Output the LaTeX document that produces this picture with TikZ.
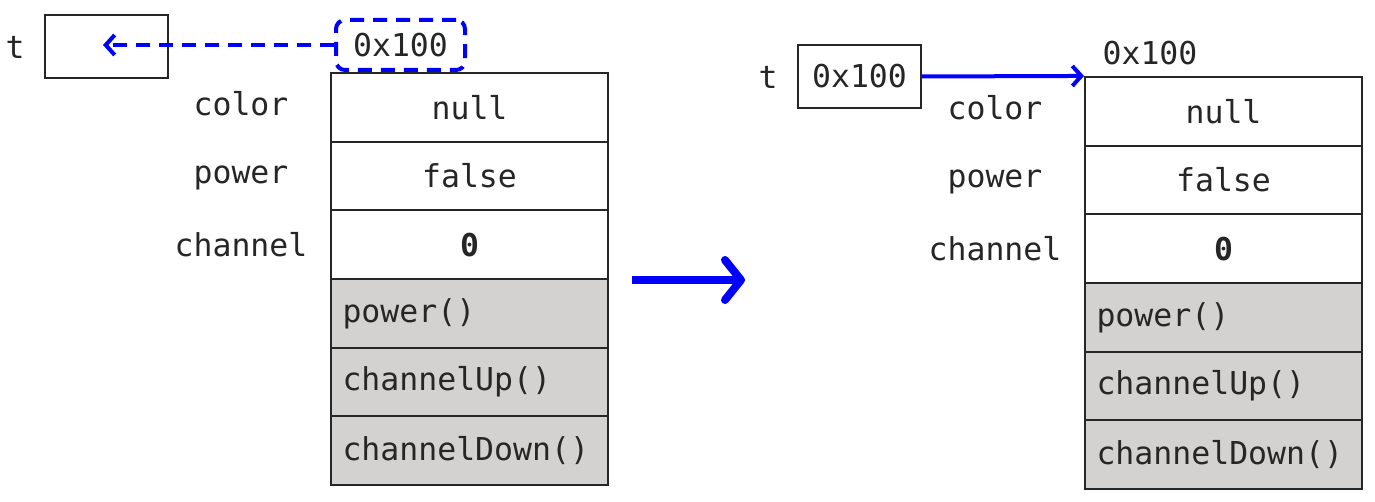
\documentclass[tikz,border=0pt]{standalone}
\usepackage{fontspec}
\setmonofont{DejaVu Sans Mono}
\usetikzlibrary{arrows.meta}
\definecolor{cellgray}{HTML}{D4D2D0}
\definecolor{ptrblue}{HTML}{0000FF}
\tikzset{
  code/.style={font=\ttfamily\fontsize{31.5}{37}\selectfont, text=black!85},
  cell/.style={draw=black!85, line width=2pt, minimum width=277pt, minimum height=68.7pt, inner sep=0pt, code},
  method/.style={cell, fill=cellgray, text width=254pt, align=left},
  varbox/.style={draw=black!85, line width=2pt, minimum width=123pt, minimum height=63pt, inner sep=0pt, code},
  lbl/.style={code, anchor=center},
  refarrow/.style={draw=ptrblue, line width=4pt, -{Straight Barb[length=9pt,width=20pt,line width=4pt]}},
}
\begin{document}
\begin{tikzpicture}[x=1pt,y=-1pt]
\useasboundingbox (0,0) rectangle (1375,502);

% ---- before: reference not yet assigned ----
\node[lbl] (t1) at (15,47) {t};
\node[varbox] (v1) at (106.5,46.5) {};
\foreach \i/\txt/\kind in {0/null/cell,1/false/cell,2/\textbf{0}/cell,3/power()/method,4/channelUp()/method,5/channelDown()/method}{
  \node[\kind] (L\i) at (469.5,{107.3+68.7*\i}) {\txt};
}
\node[lbl] at (241,104) {color};
\node[lbl] at (241,178) {power};
\node[lbl] at (241,245) {channel};
\node[code, draw=ptrblue, dashed, dash pattern=on 14pt off 9pt, line width=4pt, rounded corners=9pt,
      minimum width=129pt, minimum height=50pt, inner sep=0pt] (a1) at (400.5,45) {0x100};
\coordinate (t1in) at (103,45);
\draw[refarrow, dash pattern=on 14pt off 9pt] (a1.west) -- (t1in);

% ---- transition ----
\coordinate (m1) at (632,280);
\coordinate (m2) at (745,280);
\draw[draw=ptrblue, line width=8pt, -{Straight Barb[length=16pt,width=40pt,line width=8pt,round]}] (m1) -- (m2);

% ---- after: t refers to the object ----
\node[lbl] (t2) at (768,77) {t};
\node[varbox] (v2) at (859.5,76.5) {0x100};
\foreach \i/\txt/\kind in {0/null/cell,1/false/cell,2/\textbf{0}/cell,3/power()/method,4/channelUp()/method,5/channelDown()/method}{
  \node[\kind] (R\i) at (1223.5,{111.3+68.7*\i}) {\txt};
}
\node[lbl] at (995,108) {color};
\node[lbl] at (995,182) {power};
\node[lbl] at (995,249) {channel};
\node[lbl] (a2) at (1150,53) {0x100};
\draw[refarrow] (v2.east) -- (R0.north west);
\end{tikzpicture}
\end{document}
